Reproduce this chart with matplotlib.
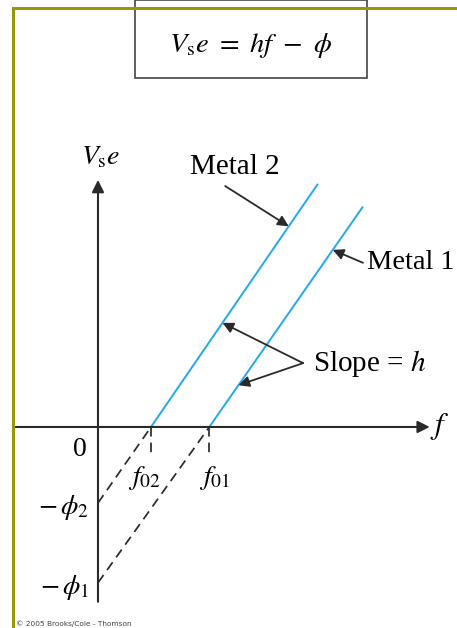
import matplotlib.pyplot as plt
from matplotlib.patches import Rectangle

plt.rcParams['font.family'] = 'Liberation Serif'
plt.rcParams['mathtext.fontset'] = 'stix'

# stopping energy vs frequency for two metals (arbitrary units)
f0 = [2.1, 1.0]          # threshold frequencies f01, f02
phi = [2.05, 1.0]        # work functions phi1, phi2
f_end = [5.0, 4.15]      # upper end of each line
vse_end = [2.9, 3.2]
f0_labels = [r'$f_{01}$', r'$f_{02}$']
phi_labels = [r'$-\,\phi_1$', r'$-\,\phi_2$']

blue = '#22a9e8'
ink = '#2a2a2a'
olive = '#9a9700'


def on_line(i, y):
    # point on line i at height y
    return (f0[i] + (f_end[i] - f0[i]) * y / vse_end[i], y)


fig = plt.figure(figsize=(4.57, 6.28), dpi=100)
ax = fig.add_axes([0, 0, 1, 1])
ax.set_xlim(-1.849, 6.774)
ax.set_ylim(-2.645, 5.618)
ax.axis('off')

axis_arrow = dict(arrowstyle='-|>', color=ink, lw=1.5, mutation_scale=18,
                  shrinkA=0, shrinkB=0)
ax.annotate('', xy=(6.26, 0), xytext=(-1.6, 0), arrowprops=axis_arrow)
ax.annotate('', xy=(0, 3.25), xytext=(0, -2.3), arrowprops=axis_arrow)

for i in range(2):
    ax.plot([f0[i], f_end[i]], [0, vse_end[i]], color=blue, lw=1.4,
            solid_capstyle='butt')
    ax.plot([0, f0[i]], [-phi[i], 0], color=ink, lw=1.25, ls=(0, (5.5, 3.5)))
    ax.plot([f0[i], f0[i]], [0, -0.37], color=ink, lw=1.25, ls=(0, (5.5, 3.5)))
    ax.text(-0.17, -phi[i] - 0.06, phi_labels[i], ha='right', va='center',
            fontsize=20)

ax.text(f0[0] + 0.09, -0.67, f0_labels[0], ha='center', va='center', fontsize=20)
ax.text(f0[1] - 0.13, -0.67, f0_labels[1], ha='center', va='center', fontsize=20)
ax.text(-0.34, -0.29, '0', ha='center', va='center', fontsize=20)
ax.text(6.45, 0.0, r'$f$', ha='center', va='center', fontsize=22)
ax.text(0.05, 3.54, r'$V_{\rm s}e$', ha='center', va='center', fontsize=20)

ptr = dict(arrowstyle='-|>', color=ink, lw=1.3, mutation_scale=16,
           shrinkA=0, shrinkB=0)
ax.text(2.58, 3.42, 'Metal 2', ha='center', va='center', fontsize=21)
ax.annotate('', xy=on_line(1, 2.64), xytext=(2.4, 3.17), arrowprops=ptr)
ax.text(5.07, 2.17, 'Metal 1', ha='left', va='center', fontsize=20.5)
ax.annotate('', xy=on_line(0, 2.33), xytext=(5.0, 2.16), arrowprops=ptr)
ax.text(4.06, 0.84, r'Slope = $h$', ha='left', va='center', fontsize=21)
ax.annotate('', xy=on_line(1, 1.37), xytext=(3.87, 0.84), arrowprops=ptr)
ax.annotate('', xy=on_line(0, 0.55), xytext=(3.87, 0.84), arrowprops=ptr)

# equation box
W, H = 457, 628
fig.patches.append(Rectangle((135 / W, 1 - 78 / H), 232 / W, 78 / H,
                             transform=fig.transFigure, fill=False,
                             edgecolor='#444444', lw=1.2))
fig.text(251 / W, 1 - 45 / H, r'$V_{\rm s}e\ =\ hf\ -\ \phi$',
         ha='center', va='center', fontsize=20.5)

# frame strips along the top and left
fig.patches.append(Rectangle((12 / W, 1 - 10 / H), 1, 3 / H,
                             transform=fig.transFigure, color=olive, lw=0))
fig.patches.append(Rectangle((12 / W, 0), 3 / W, 1 - 7 / H,
                             transform=fig.transFigure, color=olive, lw=0))

fig.text(16 / W, 1 - 624 / H, '\u00a9 2005 Brooks/Cole - Thomson',
         family='DejaVu Sans', fontsize=5.3, color='#444444', va='center')

fig.savefig('out.png', dpi=100)
